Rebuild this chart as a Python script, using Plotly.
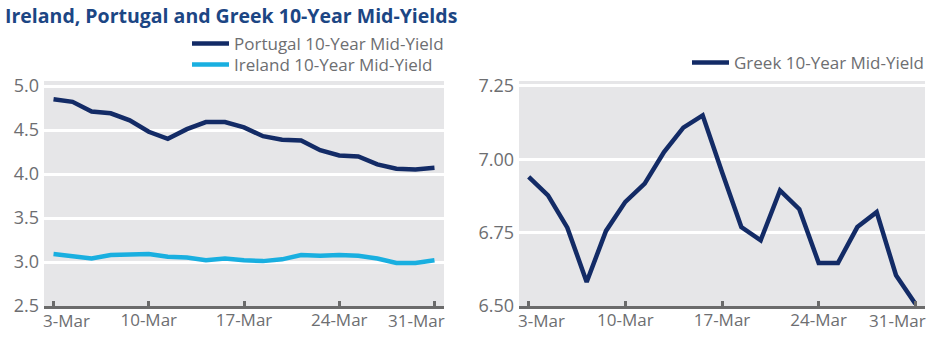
import plotly.graph_objects as go

dates = ["3-Mar", "4-Mar", "5-Mar", "6-Mar", "7-Mar",
         "10-Mar", "11-Mar", "12-Mar", "13-Mar", "14-Mar",
         "17-Mar", "18-Mar", "19-Mar", "20-Mar", "21-Mar",
         "24-Mar", "25-Mar", "26-Mar", "27-Mar", "28-Mar",
         "31-Mar"]
portugal = [4.85, 4.82, 4.71, 4.69, 4.61, 4.48, 4.40, 4.51, 4.59, 4.59,
            4.53, 4.43, 4.39, 4.38, 4.27, 4.21, 4.20, 4.11, 4.06, 4.05, 4.07]
ireland = [3.09, 3.06, 3.04, 3.08, 3.08, 3.09, 3.06, 3.05, 3.02, 3.04,
           3.02, 3.01, 3.03, 3.08, 3.07, 3.08, 3.07, 3.04, 2.99, 2.99, 3.02]
greek = [6.94, 6.877, 6.767, 6.582, 6.756, 6.855, 6.917, 7.025, 7.108, 7.15,
         6.957, 6.769, 6.724, 6.894, 6.83, 6.647, 6.647, 6.769, 6.82, 6.605, 6.508]
tick_dates = ["3-Mar", "10-Mar", "17-Mar", "24-Mar", "31-Mar"]
left_ticks = [2.5, 3.0, 3.5, 4.0, 4.5, 5.0]
right_ticks = [6.50, 6.75, 7.00, 7.25]

NAVY = "#132b66"
CYAN = "#19afe0"
GREY_TXT = "#6d6e71"
BG = "#e6e6e8"
TITLE = "#1c4684"
FONT = "Open Sans"

fig = go.Figure()
fig.add_trace(go.Scatter(x=dates, y=portugal, mode="lines", name="Portugal 10-Year Mid-Yield",
                         line=dict(color=NAVY, width=4.5), xaxis="x", yaxis="y", legend="legend"))
fig.add_trace(go.Scatter(x=dates, y=ireland, mode="lines", name="Ireland 10-Year Mid-Yield",
                         line=dict(color=CYAN, width=4.5), xaxis="x", yaxis="y", legend="legend3"))
fig.add_trace(go.Scatter(x=dates, y=greek, mode="lines", name="Greek 10-Year Mid-Yield",
                         line=dict(color=NAVY, width=4.5), xaxis="x2", yaxis="y2", legend="legend2"))

W, H = 942, 342
xcommon = dict(type="category", categoryorder="array", categoryarray=dates,
               range=[-0.5, len(dates) - 0.5], tickmode="array", automargin=False,
               showgrid=False, zeroline=False, showline=True, linecolor="#6b6b6b", linewidth=3,
               ticks="inside", ticklen=5, tickwidth=3, tickcolor="#6b6b6b", ticklabelstandoff=-3,
               tickfont=dict(family=FONT, size=17, color=GREY_TXT))
mid_text = [d if 0 < i < len(tick_dates) - 1 else "" for i, d in enumerate(tick_dates)]
ycommon = dict(showgrid=True, gridcolor="white", gridwidth=2.5, zeroline=False, showline=False,
               ticks="", ticklabelstandoff=4, automargin=False,
               tickfont=dict(family=FONT, size=18, color=GREY_TXT))
legcommon = dict(xanchor="left", yanchor="top", bgcolor="rgba(0,0,0,0)", itemwidth=37,
                 font=dict(family=FONT, size=17, color=GREY_TXT))

fig.update_layout(
    template="none",
    width=W, height=H, autosize=False,
    margin=dict(l=0, r=0, t=0, b=0, pad=0),
    paper_bgcolor="white",
    plot_bgcolor=BG,
    font=dict(family=FONT, color=GREY_TXT),
    hovermode="closest",
    title=dict(text="<b>Ireland, Portugal and Greek 10-Year Mid-Yields</b>",
               x=5 / W, xanchor="left", y=1 - 16 / H, yanchor="middle",
               font=dict(family=FONT, size=19.5, color=TITLE)),
    xaxis=dict(domain=[44 / W, 444 / W], anchor="y", tickvals=tick_dates, ticktext=mid_text, **xcommon),
    xaxis2=dict(domain=[519 / W, 925 / W], anchor="y2", tickvals=tick_dates, ticktext=mid_text, **xcommon),
    yaxis=dict(domain=[1 - 306 / H, 1 - 81 / H], anchor="x", range=[2.5, 5.057],
               tickvals=left_ticks, ticktext=[f"{v:.1f}" for v in left_ticks], **ycommon),
    yaxis2=dict(domain=[1 - 306 / H, 1 - 81 / H], anchor="x2", range=[6.5, 7.267],
                tickvals=right_ticks, ticktext=[f"{v:.2f}" for v in right_ticks], **ycommon),
    legend=dict(x=187 / W, y=1 - 26 / H, **legcommon),
    legend3=dict(x=187 / W, y=1 - 47 / H, **legcommon),
    legend2=dict(x=687 / W, y=1 - 45 / H, **legcommon),
    showlegend=True,
)

# End tick labels aligned to the plot edges (as in the original)
for xr, yr in (("x", "y"), ("x2", "y2")):
    fig.add_annotation(text=tick_dates[0], xref=f"{xr} domain", yref=f"{yr} domain",
                       x=0, y=0, xanchor="left", yanchor="top", yshift=-1, xshift=-3,
                       showarrow=False, font=dict(family=FONT, size=17, color=GREY_TXT))
    fig.add_annotation(text=tick_dates[-1], xref=f"{xr} domain", yref=f"{yr} domain",
                       x=1, y=0, xanchor="right", yanchor="top", yshift=-1, xshift=3,
                       showarrow=False, font=dict(family=FONT, size=17, color=GREY_TXT))

fig.write_html("out.html")
